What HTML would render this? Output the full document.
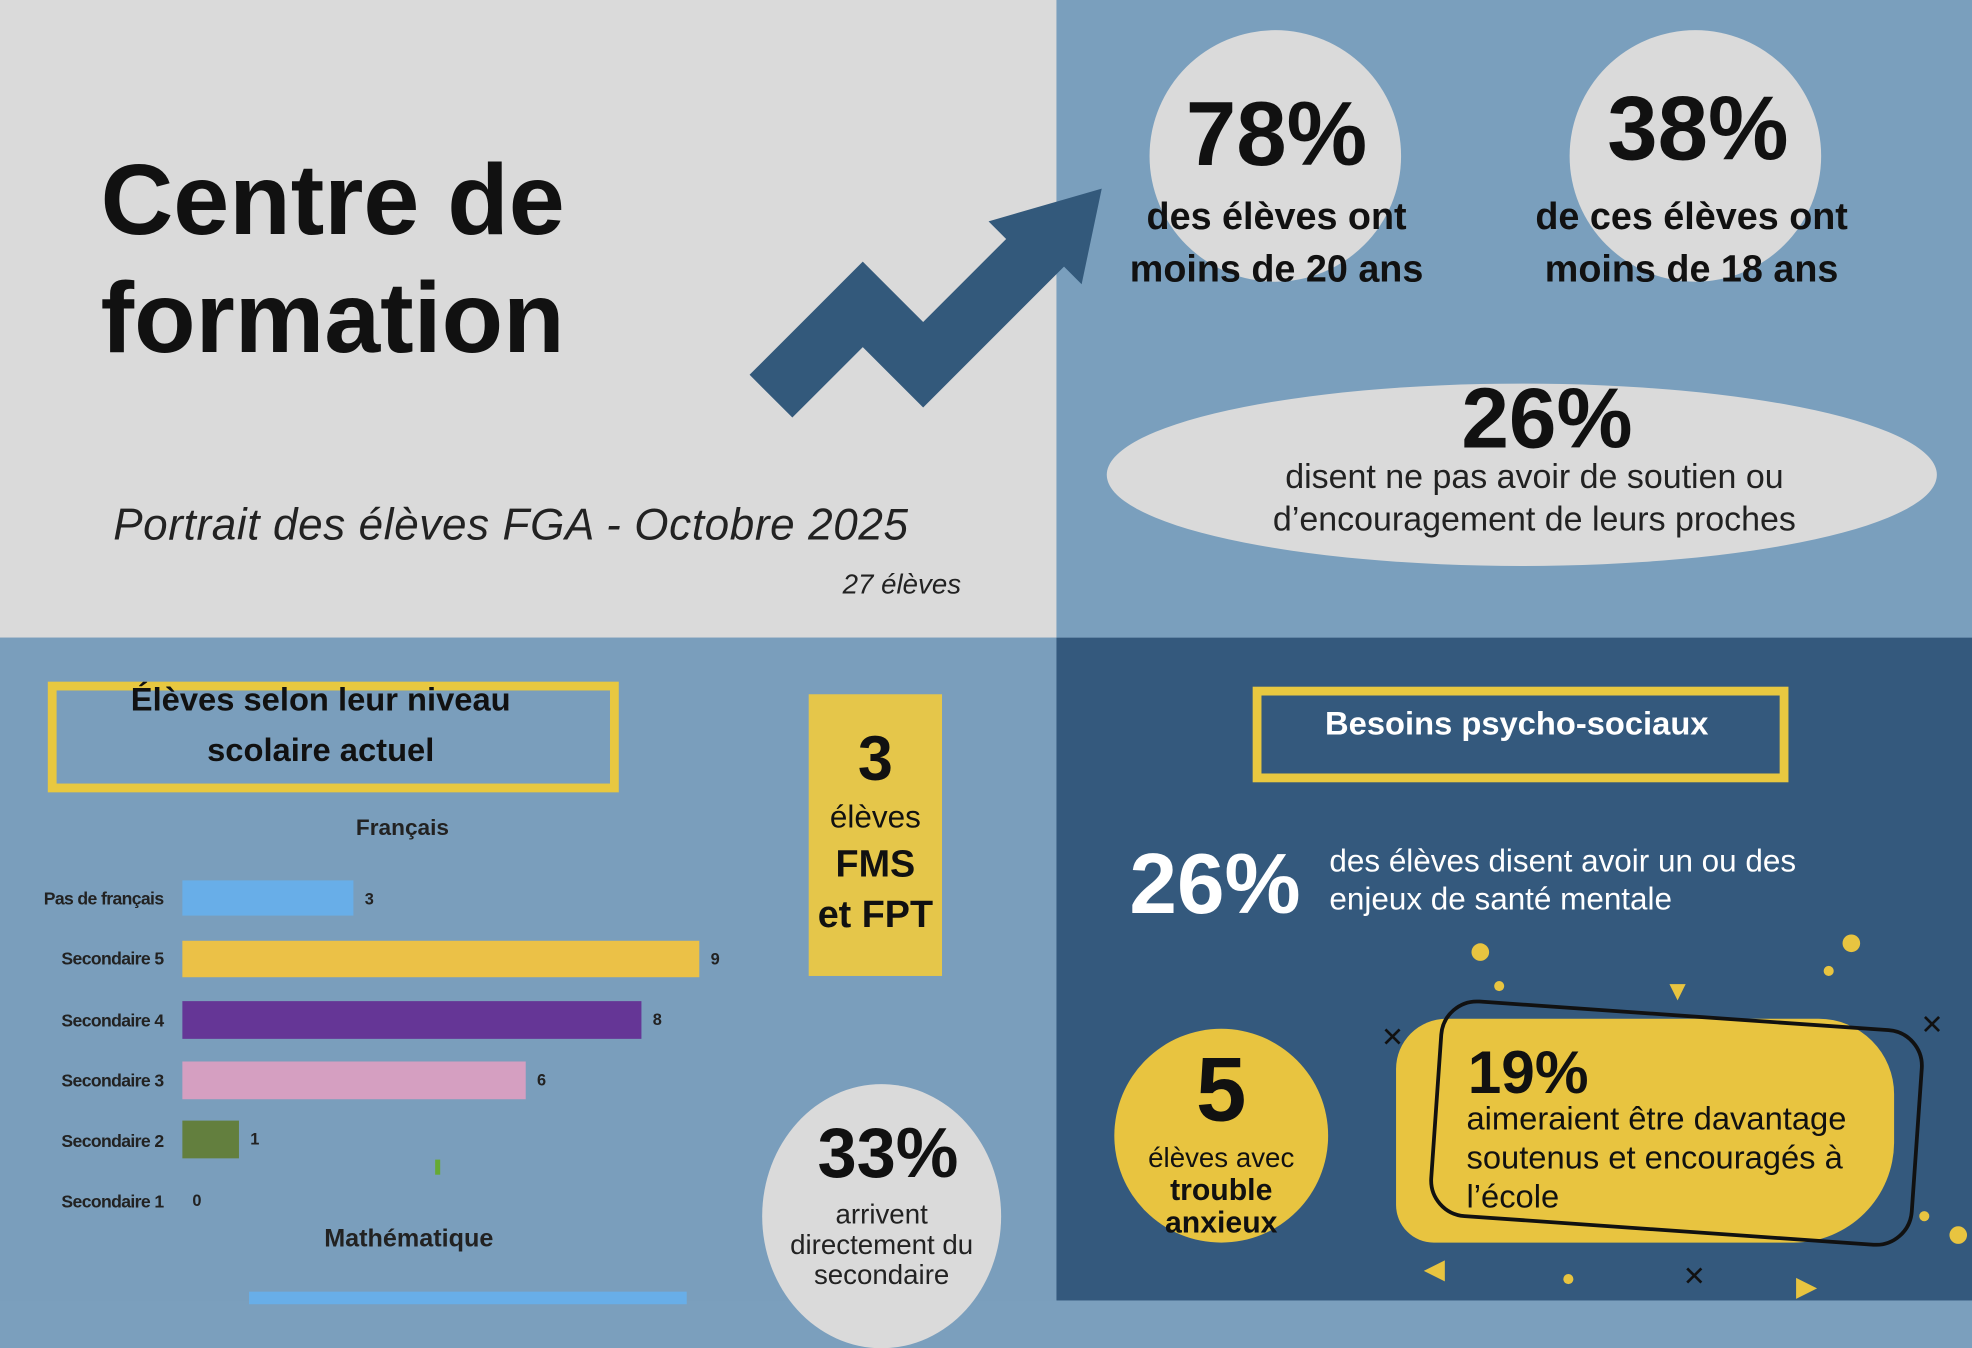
<!DOCTYPE html>
<html><head><meta charset="utf-8"><style>
html,body{margin:0;padding:0;width:1972px;height:1300px;overflow:hidden;background:#7b9fbd}
#w{position:absolute;left:0;top:0;width:1568px;height:1034px;transform:scale(1.2577);transform-origin:0 0;font-family:"Liberation Sans",sans-serif}
.a{position:absolute}
.c{text-align:center}
.b{font-weight:bold}
</style></head><body><div id="w">
<div class="a" style="left:0;top:0;width:840px;height:507px;background:#dadada"></div>
<div class="a" style="left:840px;top:0;width:728px;height:507px;background:#7a9fbd"></div>
<div class="a" style="left:0;top:507px;width:840px;height:527px;background:#7a9ebc"></div>
<div class="a" style="left:840px;top:507px;width:728px;height:527px;background:#34597d"></div>

<div class="a b" style="left:80px;top:112px;font-size:80px;line-height:94px;color:#111">Centre de<br>formation</div>
<svg class="a" style="left:590px;top:140px" width="300" height="200"><polygon points="6,158 96,68 144,116 210,50 196,36 286,10 270,86 256,72 144,184 96,136 40,192" fill="#33597b"/></svg>
<div class="a" style="left:90px;top:398px;font-size:35px;font-style:italic;color:#222;letter-spacing:0.5px">Portrait des élèves FGA - Octobre 2025</div>
<div class="a" style="left:670px;top:452px;font-size:22px;font-style:italic;color:#222">27 élèves</div>

<div class="a" style="left:914px;top:24px;width:200px;height:200px;border-radius:50%;background:#dadada"></div>
<div class="a" style="left:1248px;top:24px;width:200px;height:200px;border-radius:50%;background:#dadada"></div>
<div class="a c b" style="left:890px;top:64px;width:250px;font-size:72px;color:#111;line-height:86px">78%</div>
<div class="a c b" style="left:870px;top:152px;width:290px;font-size:30px;color:#111;line-height:42px">des élèves ont<br>moins de 20 ans</div>
<div class="a c b" style="left:1225px;top:60px;width:250px;font-size:72px;color:#111;line-height:86px">38%</div>
<div class="a c b" style="left:1195px;top:152px;width:300px;font-size:30px;color:#111;line-height:42px">de ces élèves ont<br>moins de 18 ans</div>
<div class="a" style="left:880px;top:305px;width:660px;height:145px;border-radius:50%/50%;background:#dadada"></div>
<div class="a c b" style="left:1100px;top:294px;width:260px;font-size:68px;color:#111">26%</div>
<div class="a c" style="left:930px;top:362px;width:580px;font-size:27px;line-height:34px;color:#222">disent ne pas avoir de soutien ou<br>d’encouragement de leurs proches</div>

<div class="a" style="left:38px;top:542px;width:440px;height:74px;border:7px solid #e8c840"></div>
<div class="a c b" style="left:40px;top:536px;width:430px;font-size:26px;line-height:40px;color:#111">Élèves selon leur niveau<br>scolaire actuel</div>
<div class="a" style="left:643px;top:552px;width:106px;height:224px;background:#e5c64a"></div>
<div class="a c" style="left:643px;top:574px;width:106px;color:#111"><div class="b" style="font-size:50px">3</div><div style="font-size:25px;line-height:36px">élèves</div><div class="b" style="font-size:30px;line-height:40px">FMS<br>et FPT</div></div>

<div class="a c b" style="left:260px;top:648px;width:120px;font-size:18px;color:#222">Français</div>
<div class="a b" style="left:0;top:690px;width:130px;text-align:right;font-size:14px;color:#222;line-height:48.3px;letter-spacing:-0.5px">Pas de français<br>Secondaire 5<br>Secondaire 4<br>Secondaire 3<br>Secondaire 2<br>Secondaire 1</div>
<div class="a" style="left:145px;top:700px;width:136px;height:28px;background:#68aee8"></div>
<div class="a" style="left:145px;top:748px;width:411px;height:29px;background:#ebc147"></div>
<div class="a" style="left:145px;top:796px;width:365px;height:30px;background:#653696"></div>
<div class="a" style="left:145px;top:844px;width:273px;height:30px;background:#d59fc1"></div>
<div class="a" style="left:145px;top:891px;width:45px;height:30px;background:#637f3e"></div>
<div class="a" style="left:346px;top:922px;width:4px;height:12px;background:#6a3"></div>
<div class="a b" style="left:290px;top:707px;font-size:13px;color:#222">3</div>
<div class="a b" style="left:565px;top:755px;font-size:13px;color:#222">9</div>
<div class="a b" style="left:519px;top:803px;font-size:13px;color:#222">8</div>
<div class="a b" style="left:427px;top:851px;font-size:13px;color:#222">6</div>
<div class="a b" style="left:199px;top:898px;font-size:13px;color:#222">1</div>
<div class="a b" style="left:153px;top:947px;font-size:13px;color:#222">0</div>
<div class="a c b" style="left:240px;top:974px;width:170px;font-size:20px;color:#222">Mathématique</div>
<div class="a" style="left:198px;top:1027px;width:348px;height:10px;background:#68aee8"></div>

<div class="a" style="left:606px;top:862px;width:190px;height:210px;border-radius:50%;background:#dadada"></div>
<div class="a c b" style="left:606px;top:884px;width:200px;font-size:56px;color:#111">33%</div>
<div class="a c" style="left:606px;top:954px;width:190px;font-size:22px;line-height:24px;color:#222">arrivent<br>directement du<br>secondaire</div>

<div class="a" style="left:996px;top:546px;width:412px;height:62px;border:7px solid #e8c840"></div>
<div class="a c b" style="left:996px;top:560px;width:420px;font-size:26px;color:#fff">Besoins psycho-sociaux</div>
<div class="a b" style="left:898px;top:664px;font-size:68px;color:#fff">26%</div>
<div class="a" style="left:1057px;top:670px;font-size:25px;line-height:30px;color:#fff">des élèves disent avoir un ou des<br>enjeux de santé mentale</div>

<div class="a" style="left:886px;top:818px;width:170px;height:170px;border-radius:50%;background:#e8c440"></div>
<div class="a c" style="left:886px;top:826px;width:170px;color:#111"><div class="b" style="font-size:72px;line-height:82px">5</div><div style="font-size:22px;line-height:26px">élèves avec<br><b style="font-size:24px">trouble<br>anxieux</b></div></div>
<div class="a" style="left:1110px;top:810px;width:396px;height:178px;border-radius:40px 60px 80px 30px;background:#e8c440"></div>
<div class="a" style="left:1140px;top:806px;width:380px;height:168px;border:3px solid #111;border-radius:30px;transform:rotate(4deg)"></div>
<div class="a b" style="left:1167px;top:826px;font-size:48px;color:#111">19%</div>
<div class="a" style="left:1166px;top:874px;font-size:26px;line-height:31px;color:#111">aimeraient être davantage<br>soutenus et encouragés à<br>l’école</div>
<div class="a" style="left:1170px;top:750px;width:14px;height:14px;border-radius:50%;background:#e8c440"></div>
<div class="a" style="left:1465px;top:743px;width:14px;height:14px;border-radius:50%;background:#e8c440"></div>
<div class="a" style="left:1188px;top:780px;width:8px;height:8px;border-radius:50%;background:#e8c440"></div>
<div class="a" style="left:1450px;top:768px;width:8px;height:8px;border-radius:50%;background:#e8c440"></div>
<div class="a" style="left:1550px;top:975px;width:14px;height:14px;border-radius:50%;background:#e8c440"></div>
<div class="a" style="left:1526px;top:963px;width:8px;height:8px;border-radius:50%;background:#e8c440"></div>
<div class="a" style="left:1243px;top:1013px;width:8px;height:8px;border-radius:50%;background:#e8c440"></div>
<div class="a" style="left:1323px;top:775px;font-size:22px;color:#e8c440">▼</div>
<div class="a" style="left:1132px;top:996px;font-size:22px;color:#e8c440">◀</div>
<div class="a" style="left:1428px;top:1010px;font-size:22px;color:#e8c440">▶</div>
<div class="a" style="left:1098px;top:812px;font-size:22px;color:#111">✕</div>
<div class="a" style="left:1527px;top:802px;font-size:22px;color:#111">✕</div>
<div class="a" style="left:1338px;top:1002px;font-size:22px;color:#111">✕</div>
</div></body></html>
